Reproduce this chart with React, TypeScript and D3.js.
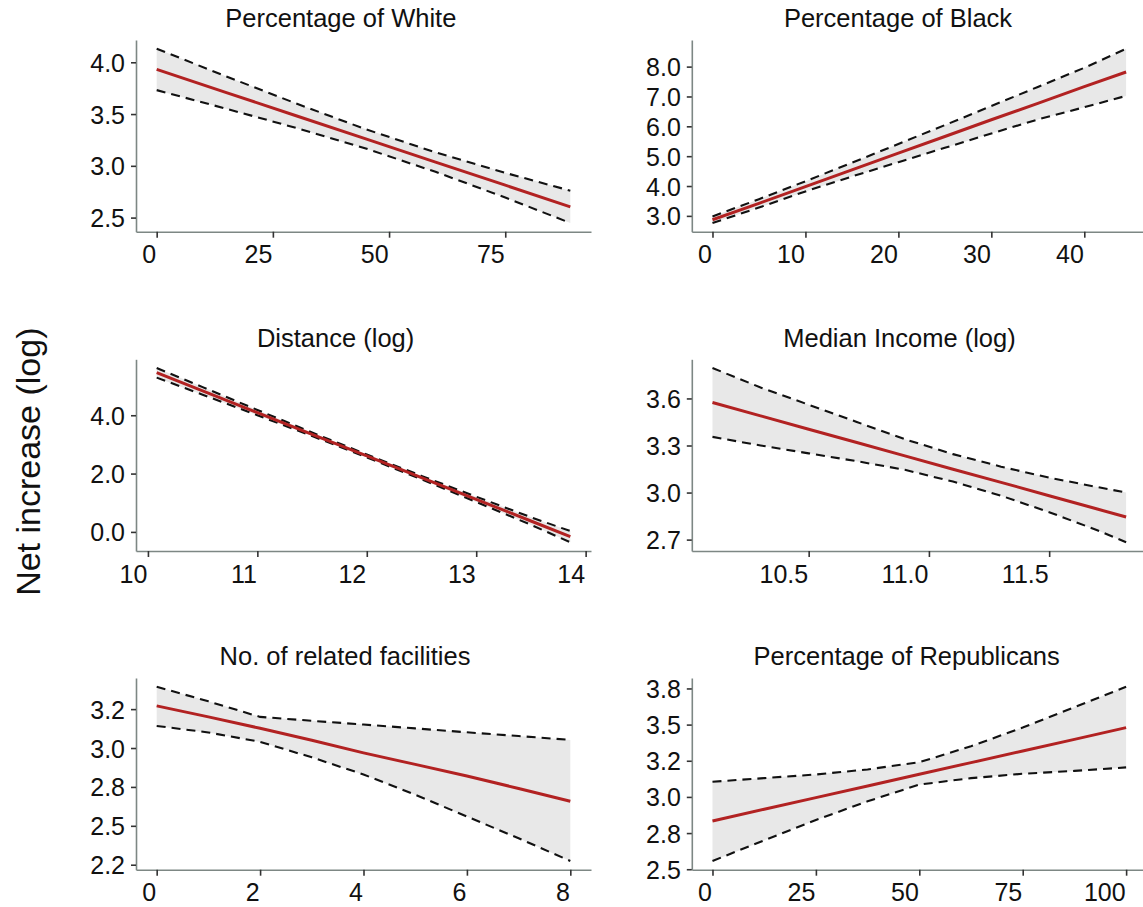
import { useEffect, useRef } from 'react'
import * as d3 from 'd3'

// Percentage of White
const whiteX = [0, 15, 30, 45, 60, 75, 89]
const whiteFit = [3.931, 3.707, 3.484, 3.26, 3.036, 2.813, 2.604]
const whiteUpper = [4.131, 3.863, 3.602, 3.353, 3.13, 2.932, 2.76]
const whiteLower = [3.731, 3.551, 3.366, 3.167, 2.942, 2.694, 2.448]

// Percentage of Black
const blackX = [0, 5, 10, 15, 20, 25, 30, 35, 40, 44.5]
const blackFit = [2.87, 3.42, 3.98, 4.54, 5.1, 5.66, 6.22, 6.77, 7.33, 7.82]
const blackUpper = [2.98, 3.56, 4.16, 4.78, 5.41, 6.04, 6.68, 7.32, 7.96, 8.6]
const blackLower = [2.762, 3.28, 3.82, 4.32, 4.8, 5.28, 5.76, 6.23, 6.64, 7.02]

// Distance (log)
const distX = [10.08, 10.5, 11, 11.5, 12, 12.5, 13, 13.5, 13.86]
const distFit = [5.46, 4.835, 4.092, 3.348, 2.605, 1.861, 1.118, 0.374, -0.162]
const distUpper = [5.62, 4.965, 4.182, 3.408, 2.655, 1.921, 1.208, 0.504, 0.028]
const distLower = [5.29, 4.705, 4.002, 3.288, 2.555, 1.801, 1.028, 0.244, -0.356]

// Median Income (log)
const incomeX = [10.1, 10.3, 10.5, 10.7, 10.9, 11.1, 11.3, 11.5, 11.7, 11.82]
const incomeFit = [3.574, 3.489, 3.404, 3.319, 3.234, 3.149, 3.065, 2.98, 2.895, 2.844]
const incomeUpper = [3.794, 3.67, 3.56, 3.45, 3.34, 3.245, 3.165, 3.095, 3.035, 3.0]
const incomeLower = [3.355, 3.3, 3.25, 3.2, 3.145, 3.07, 2.98, 2.875, 2.76, 2.683]

// No. of related facilities
const facX = [0, 1, 2, 3, 4, 5, 6, 7, 8]
const facFit = [3.271, 3.2, 3.127, 3.05, 2.969, 2.895, 2.82, 2.74, 2.658]
const facUpper = [3.394, 3.3, 3.2, 3.175, 3.151, 3.126, 3.101, 3.077, 3.052]
const facLower = [3.142, 3.1, 3.04, 2.94, 2.83, 2.7, 2.56, 2.42, 2.274]

// Percentage of Republicans
const repX = [0, 12.5, 25, 37.5, 50, 62.5, 75, 87.5, 100]
const repFit = [2.834, 2.915, 2.995, 3.076, 3.157, 3.237, 3.318, 3.398, 3.479]
const repUpper = [3.105, 3.13, 3.155, 3.19, 3.24, 3.35, 3.48, 3.62, 3.762]
const repLower = [2.557, 2.7, 2.84, 2.97, 3.085, 3.13, 3.16, 3.18, 3.204]

const titles = [
  'Percentage of White',
  'Percentage of Black',
  'Distance (log)',
  'Median Income (log)',
  'No. of related facilities',
  'Percentage of Republicans',
]

const xTicks = [
  [0, 25, 50, 75],
  [0, 10, 20, 30, 40],
  [10, 11, 12, 13, 14],
  [10.5, 11.0, 11.5],
  [0, 2, 4, 6, 8],
  [0, 25, 50, 75, 100],
]
const xTickLabels = [
  ['0', '25', '50', '75'],
  ['0', '10', '20', '30', '40'],
  ['10', '11', '12', '13', '14'],
  ['10.5', '11.0', '11.5'],
  ['0', '2', '4', '6', '8'],
  ['0', '25', '50', '75', '100'],
]
const yTicks = [
  [2.5, 3.0, 3.5, 4.0],
  [3, 4, 5, 6, 7, 8],
  [0, 2, 4],
  [2.7, 3.0, 3.3, 3.6],
  [2.25, 2.5, 2.75, 3.0, 3.25],
  [2.5, 2.75, 3.0, 3.25, 3.5, 3.75],
]
const yTickLabels = [
  ['2.5', '3.0', '3.5', '4.0'],
  ['3.0', '4.0', '5.0', '6.0', '7.0', '8.0'],
  ['0.0', '2.0', '4.0'],
  ['2.7', '3.0', '3.3', '3.6'],
  ['2.2', '2.5', '2.8', '3.0', '3.2'],
  ['2.5', '2.8', '3.0', '3.2', '3.5', '3.8'],
]

const yLabel = 'Net increase (log)'

const panelData = [
  { x: whiteX, fit: whiteFit, upper: whiteUpper, lower: whiteLower },
  { x: blackX, fit: blackFit, upper: blackUpper, lower: blackLower },
  { x: distX, fit: distFit, upper: distUpper, lower: distLower },
  { x: incomeX, fit: incomeFit, upper: incomeUpper, lower: incomeLower },
  { x: facX, fit: facFit, upper: facUpper, lower: facLower },
  { x: repX, fit: repFit, upper: repUpper, lower: repLower },
]

const WIDTH = 1143
const HEIGHT = 907
const FONT = '"Liberation Sans", Arial, Helvetica, sans-serif'

export default function App() {
  const svgRef = useRef<SVGSVGElement>(null)

  useEffect(() => {
    if (!svgRef.current) return
    const svg = d3.select(svgRef.current)
    svg.selectAll('*').remove()

    const colLeft = [136, 691.8]
    const rowTop = [40, 359.3, 678]
    const plotW = 455
    const plotH = 191.7
    const titleX = [340.8, 898, 335.6, 899.5, 345, 906.7]

    panelData.forEach((p, i) => {
      const left = colLeft[i % 2]
      const top = rowTop[Math.floor(i / 2)]

      const [x0, x1] = d3.extent(p.x) as [number, number]
      const xPad = (x1 - x0) * 0.05
      const yMin = d3.min(p.lower) as number
      const yMax = d3.max(p.upper) as number
      const yPad = (yMax - yMin) * 0.05

      const x = d3.scaleLinear().domain([x0 - xPad, x1 + xPad]).range([left, left + plotW])
      const y = d3.scaleLinear().domain([yMin - yPad, yMax + yPad]).range([top + plotH, top])

      const rows = p.x.map((v, k) => ({ x: v, fit: p.fit[k], upper: p.upper[k], lower: p.lower[k] }))

      const g = svg.append('g')

      // ribbon
      g.append('path')
        .datum(rows)
        .attr('fill', '#e8e8e8')
        .attr('d', d3.area<any>().x(d => x(d.x)).y0(d => y(d.lower)).y1(d => y(d.upper)))

      // confidence bounds
      ;['upper', 'lower'].forEach(key => {
        g.append('path')
          .datum(rows)
          .attr('fill', 'none')
          .attr('stroke', '#111')
          .attr('stroke-width', 2.1)
          .attr('stroke-dasharray', '9,6')
          .attr('d', d3.line<any>().x(d => x(d.x)).y(d => y(d[key])))
      })

      // fitted line
      g.append('path')
        .datum(rows)
        .attr('fill', 'none')
        .attr('stroke', '#b22222')
        .attr('stroke-width', 3)
        .attr('d', d3.line<any>().x(d => x(d.x)).y(d => y(d.fit)))

      // x axis
      const xa = g.append('g')
        .attr('transform', `translate(0,${top + plotH})`)
        .call(d3.axisBottom(x)
          .tickValues(xTicks[i])
          .tickFormat((_, k) => xTickLabels[i][k])
          .tickSize(6)
          .tickSizeOuter(0))
      xa.select('.domain').attr('stroke', '#7d8784').attr('stroke-width', 1.6)
      xa.selectAll('.tick line').attr('stroke', '#333').attr('stroke-width', 1.6)
      xa.selectAll('.tick text')
        .attr('y', 31.6)
        .attr('dy', null)
        .attr('x', -1)
        .attr('text-anchor', 'end')
        .attr('fill', '#111')
        .style('font-size', '25px')
        .style('font-family', FONT)

      // y axis
      const ya = g.append('g')
        .attr('transform', `translate(${left},0)`)
        .call(d3.axisLeft(y)
          .tickValues(yTicks[i])
          .tickFormat((_, k) => yTickLabels[i][k])
          .tickSize(5)
          .tickPadding(6)
          .tickSizeOuter(0))
      ya.select('.domain').attr('stroke', '#7d8784').attr('stroke-width', 1.6)
      ya.selectAll('.tick line').attr('stroke', '#333').attr('stroke-width', 1.6)
      ya.selectAll('.tick text')
        .attr('dy', '0.36em')
        .attr('fill', '#111')
        .style('font-size', '25px')
        .style('font-family', FONT)

      // title
      g.append('text')
        .attr('x', titleX[i])
        .attr('y', top - 12.7)
        .attr('text-anchor', 'middle')
        .attr('fill', '#111')
        .style('font-size', '25.5px')
        .style('font-family', FONT)
        .text(titles[i])
    })

    svg.append('text')
      .attr('transform', `translate(40,461.7) rotate(-90)`)
      .attr('text-anchor', 'middle')
      .attr('fill', '#111')
      .style('font-size', '34px')
      .style('font-family', FONT)
      .text(yLabel)
  }, [])

  return (
    <svg
      ref={svgRef}
      width={WIDTH}
      height={HEIGHT}
      style={{ position: 'absolute', left: 0, top: 0, background: '#fff' }}
    />
  )
}
